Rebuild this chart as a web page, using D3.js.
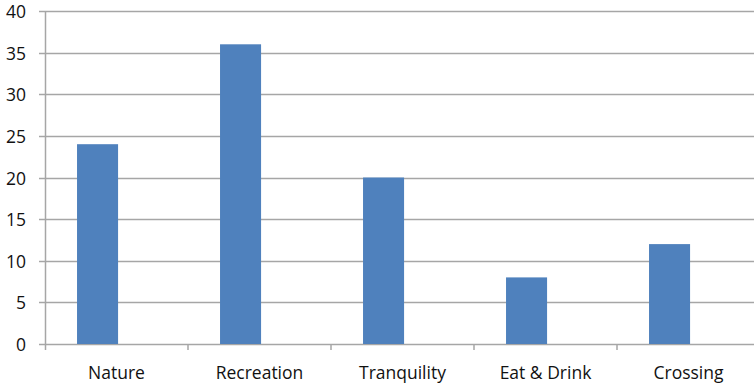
<!DOCTYPE html>
<html><head><meta charset="utf-8">
<script src="https://cdn.jsdelivr.net/npm/d3@7"></script>
<style>body{margin:0;background:#fff}svg{display:block}text{font-family:"Open Sans",sans-serif;fill:#111}</style>
</head><body>
<script>
const categories = ["Nature","Recreation","Tranquility","Eat & Drink","Crossing"];
const values = [24,36,20,8,12];
const yTicks = [0,5,10,15,20,25,30,35,40];

(function(){
const W = 754, H = 386;
const svg = d3.select("body").append("svg").attr("width",W).attr("height",H);
const mLeft = 45, mTop = 11, mBottom = 344;
const x = d3.scaleBand().domain(categories).range([mLeft, mLeft + 143*5]).padding(0);
const y = d3.scaleLinear().domain([0,40]).range([mBottom, mTop]);

// gridlines
svg.append("g").selectAll("line").data(yTicks).join("line")
  .attr("x1", mLeft - 6).attr("x2", W)
  .attr("y1", d => Math.round(y(d)) + 0.5).attr("y2", d => Math.round(y(d)) + 0.5)
  .attr("stroke", "#a6a6a6").attr("stroke-width", 1.5);

// bars
const bw = x.bandwidth();
svg.append("g").selectAll("rect").data(values).join("rect")
  .attr("x", (d,i) => x(categories[i]) + bw*0.224)
  .attr("width", bw*0.287)
  .attr("y", d => y(d))
  .attr("height", d => y(0) - y(d))
  .attr("fill", "#4f81bd");

// y axis line
svg.append("line").attr("x1", mLeft + 0.5).attr("x2", mLeft + 0.5)
  .attr("y1", mTop).attr("y2", mBottom + 6)
  .attr("stroke", "#a6a6a6").attr("stroke-width", 1.5);

// category ticks
svg.append("g").selectAll("line").data(categories.slice(1)).join("line")
  .attr("x1", d => x(d)).attr("x2", d => x(d))
  .attr("y1", mBottom).attr("y2", mBottom + 6)
  .attr("stroke", "#a6a6a6").attr("stroke-width", 1.5);

// y labels
svg.append("g").selectAll("text").data(yTicks).join("text")
  .attr("x", 26).attr("y", d => y(d) + 7)
  .attr("text-anchor", "end").attr("font-size", 17.5).text(d => d);

// x labels
svg.append("g").selectAll("text").data(categories).join("text")
  .attr("x", d => x(d) + bw/2).attr("y", 379)
  .attr("text-anchor", "middle").attr("font-size", 17.5).text(d => d);
})();
</script>
</body></html>
